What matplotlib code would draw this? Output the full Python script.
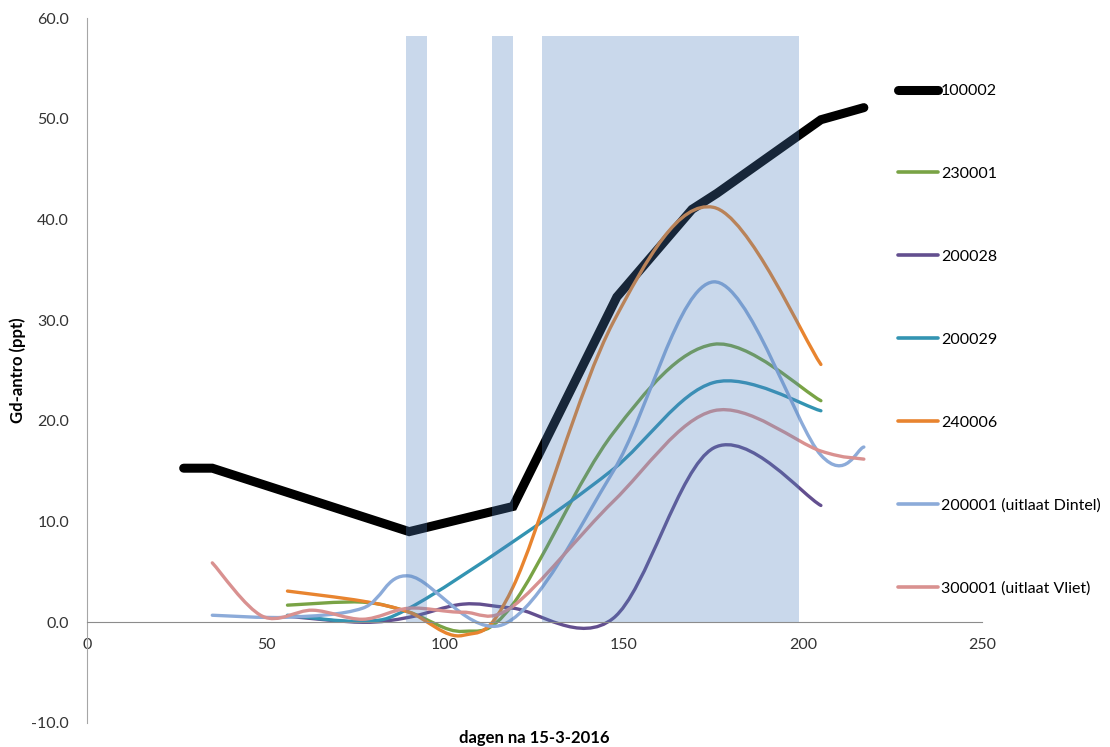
import numpy as np
import matplotlib
matplotlib.use("Agg")
import matplotlib.pyplot as plt
from matplotlib.path import Path
from matplotlib.patches import PathPatch
from matplotlib.lines import Line2D

plt.rcParams['font.family'] = ['Lato', 'DejaVu Sans']

# shaded periods (days)
shade_start = [89, 113, 127]
shade_end = [95, 119, 199]
shade_top = 58.2

# series: days after 15-3-2016, Gd-antro (ppt)
x_100002 = [27, 35, 90, 119, 148, 169, 176, 205, 217]
y_100002 = [15.3, 15.3, 9.0, 11.5, 32.3, 41.0, 42.6, 49.9, 51.1]

x_230001 = [56, 77, 90, 105, 119, 147, 175, 205]
y_230001 = [1.7, 2.0, 1.0, -0.9, 1.8, 18.8, 27.6, 22.0]

x_200028 = [56, 77, 90, 105, 119, 147, 175, 205]
y_200028 = [0.6, 0.0, 0.5, 1.8, 1.4, 0.4, 17.3, 11.6]

x_200029 = [56, 77, 90, 119, 147, 175, 205]
y_200029 = [0.7, 0.1, 1.4, 8.0, 15.2, 23.8, 21.0]

x_240006 = [56, 77, 90, 105, 119, 147, 175, 205]
y_240006 = [3.1, 2.1, 1.0, -1.3, 3.5, 29.8, 41.2, 25.6]

x_200001 = [35, 56, 77, 90, 117, 147, 175, 205, 217]
y_200001 = [0.7, 0.5, 1.4, 4.6, -0.1, 15.0, 33.8, 16.6, 17.4]

x_300001 = [35, 49, 63, 77, 90, 105, 119, 147, 175, 205, 217]
y_300001 = [5.9, 0.6, 1.2, 0.3, 1.4, 1.0, 1.6, 12.0, 21.0, 17.0, 16.2]


def smooth_path(xs, ys):
    # Excel-style smoothed line: cubic bezier through the points
    p = np.column_stack([xs, ys]).astype(float)
    n = len(p)
    verts = [p[0]]
    codes = [Path.MOVETO]
    for i in range(n - 1):
        p0 = p[i - 1] if i > 0 else p[i]
        p3 = p[i + 2] if i + 2 < n else p[i + 1]
        c1 = p[i] + (p[i + 1] - p0) / 6.0
        c2 = p[i + 1] - (p3 - p[i]) / 6.0
        verts += [c1, c2, p[i + 1]]
        codes += [Path.CURVE4] * 3
    return Path(verts, codes)


fig = plt.figure(figsize=(11.1, 7.47), dpi=100)
ax = fig.add_axes([87 / 1110, 1 - 723 / 747, 895 / 1110, 705 / 747])

series = [
    ('230001', x_230001, y_230001, '#79a345'),
    ('200028', x_200028, y_200028, '#634f8f'),
    ('200029', x_200029, y_200029, '#3394b2'),
    ('240006', x_240006, y_240006, '#e8842f'),
    ('200001 (uitlaat Dintel)', x_200001, y_200001, '#8cabd9'),
    ('300001 (uitlaat Vliet)', x_300001, y_300001, '#d99190'),
]

handles = [Line2D([], [], color='black', lw=6.5, solid_capstyle='round')]
labels = ['100002']

ax.plot(x_100002, y_100002, color='black', lw=6.5, solid_capstyle='round',
        solid_joinstyle='miter', zorder=2)
for name, xs, ys, col in series:
    ax.add_patch(PathPatch(smooth_path(xs, ys), facecolor='none', edgecolor=col,
                           lw=2.4, capstyle='round', zorder=2))
    handles.append(Line2D([], [], color=col, lw=2.6, solid_capstyle='round'))
    labels.append(name)

widths = [e - s for s, e in zip(shade_start, shade_end)]
ax.bar(shade_start, [shade_top] * 3, width=widths, align='edge',
       color='#4f81bd', alpha=0.3, linewidth=0, zorder=3)

ax.set_xlim(0, 250)
ax.set_ylim(-10, 60)
ax.set_xticks(np.arange(0, 251, 50))
ax.set_yticks(np.arange(-10, 61, 10))
ax.set_yticklabels(['%.1f' % v for v in np.arange(-10, 61, 10)])

for s in ['top', 'right']:
    ax.spines[s].set_visible(False)
ax.spines['bottom'].set_position(('data', 0))
ax.spines['bottom'].set_color('#8c8c8c')
ax.spines['left'].set_color('#a6a6a6')
ax.tick_params(axis='both', length=0, labelsize=11.5, colors='#333333')
ax.tick_params(axis='x', pad=11)
ax.tick_params(axis='y', pad=13)

ax.set_xlabel('dagen na 15-3-2016', fontsize=12, fontweight='bold', va='center')
ax.set_ylabel('Gd-antro (ppt)', fontsize=12, fontweight='bold', va='center')
ax.xaxis.set_label_coords(0.5, -0.021)
ax.yaxis.set_label_coords(-0.077, 0.5)

fig.legend(handles, labels, loc='upper left', bbox_to_anchor=(898 / 1110, 1 - 84 / 747),
           frameon=False, fontsize=11.5, labelspacing=4.3, handlelength=2.5,
           handletextpad=0.2, borderpad=0, borderaxespad=0)

fig.savefig('out.png', dpi=100)
